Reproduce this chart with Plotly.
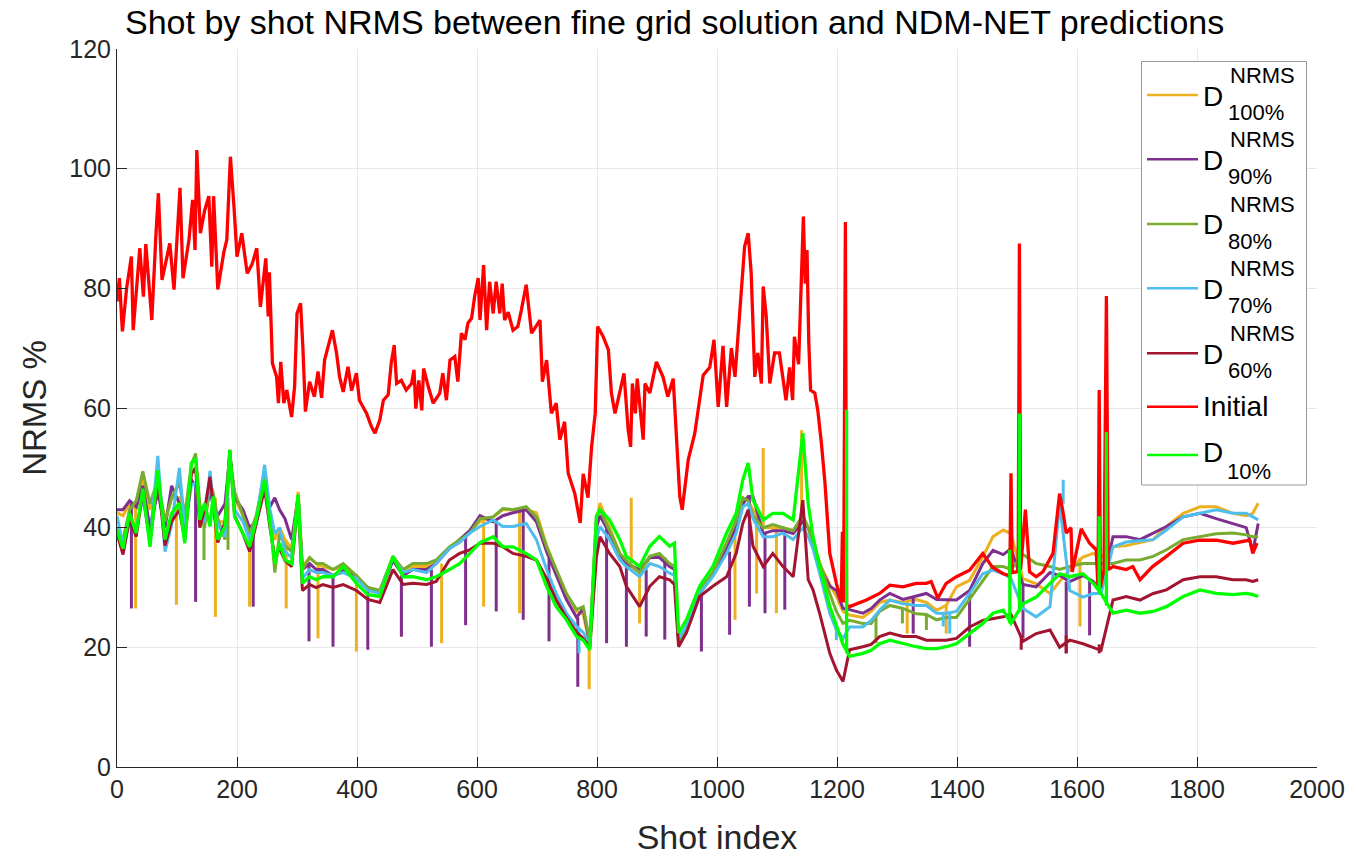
import plotly.graph_objects as go

# ---------------- data ----------------
RED_SHOT = [0, 4, 9, 16, 24, 27, 38, 44, 48, 58, 65, 69, 75, 88, 95, 105, 110, 120, 126, 130,
            133, 139, 146, 153, 158, 161, 168, 178, 183, 189, 195, 200, 208, 217, 225, 233, 239, 248, 252, 254,
            259, 266, 269, 273, 278, 283, 291, 296, 300, 306, 310, 314, 321, 329, 335, 341, 346, 355, 359, 366,
            371, 377, 385, 391, 399, 404, 416, 424, 430, 438, 444, 452, 457, 462, 466, 474, 482, 491, 495, 498,
            503, 508, 511, 519, 527, 538, 543, 549, 555, 563, 568, 574, 580, 585, 591, 596, 602, 605, 611, 616,
            621, 627, 632, 638, 642, 646, 652, 660, 668, 674, 682, 691, 705, 709, 716, 724, 732, 738, 746, 752,
            763, 772, 777, 785, 791, 797, 801, 810, 819, 824, 830, 845, 852, 856, 859, 864, 867, 877, 880, 888,
            899, 910, 918, 927, 932, 938, 942, 952, 963, 972, 977, 988, 995, 1002, 1010, 1016, 1024, 1030, 1038, 1046,
            1052, 1057, 1063, 1068, 1074, 1077, 1082, 1088, 1096, 1104, 1115, 1121, 1126, 1129, 1136, 1140, 1144, 1147, 1150, 1153,
            1156, 1163, 1168, 1174, 1180, 1185, 1188, 1199, 1204, 1207, 1209, 1211, 1214, 1216, 1221, 1249, 1271, 1288, 1310, 1332,
            1349, 1357, 1368, 1382, 1399, 1421, 1443, 1459, 1477, 1488, 1490, 1492, 1499, 1502, 1504, 1506, 1514, 1521, 1532, 1543,
            1560, 1571, 1577, 1582, 1590, 1592, 1607, 1621, 1632, 1635, 1637, 1639, 1645, 1649, 1652, 1660, 1682, 1693, 1705, 1726,
            1749, 1777, 1804, 1832, 1860, 1888, 1893, 1900]
RED_NRMS = [77.8, 81.7, 72.8, 80.0, 85.3, 73.0, 86.7, 78.6, 87.4, 74.7, 89.2, 95.9, 81.4, 87.5, 79.8, 96.8, 81.7, 88.1, 94.8, 86.4,
            103.1, 89.2, 93.0, 95.4, 83.6, 95.4, 79.8, 86.0, 88.1, 102.0, 93.6, 85.3, 89.2, 82.5, 84.0, 86.7, 76.9, 85.0, 75.3, 82.7,
            67.5, 65.2, 60.8, 67.7, 60.8, 63.0, 58.5, 63.6, 75.8, 77.5, 69.7, 59.4, 64.4, 61.9, 66.1, 61.7, 68.0, 71.4, 73.0, 69.1,
            65.2, 62.7, 66.9, 62.9, 65.8, 61.3, 59.1, 56.9, 55.8, 58.0, 61.3, 62.2, 67.5, 70.5, 64.1, 64.6, 63.0, 64.1, 66.4, 59.9,
            64.6, 59.6, 66.6, 63.5, 60.8, 62.5, 65.8, 61.3, 68.0, 68.6, 64.4, 72.5, 71.4, 74.2, 75.0, 78.6, 81.7, 74.7, 83.9, 73.0,
            81.1, 75.8, 81.1, 75.8, 80.8, 74.7, 76.0, 73.0, 73.6, 76.4, 80.6, 72.5, 74.7, 64.4, 68.0, 59.1, 60.8, 54.7, 57.7, 49.1,
            45.7, 40.8, 49.0, 45.0, 53.5, 59.1, 73.6, 72.0, 69.7, 62.5, 59.1, 65.8, 56.3, 53.5, 64.1, 59.1, 64.9, 54.7, 64.1, 62.5,
            67.7, 65.2, 61.9, 64.9, 55.8, 45.2, 43.0, 51.3, 55.8, 62.5, 65.5, 66.8, 71.4, 60.2, 70.4, 60.2, 70.0, 65.2, 76.9, 87.0,
            89.2, 82.5, 65.2, 69.2, 64.1, 80.3, 75.4, 64.1, 69.2, 69.2, 61.3, 66.8, 61.3, 71.9, 67.3, 78.0, 92.0, 80.8, 86.4, 70.9,
            63.0, 62.5, 59.6, 54.1, 47.4, 40.0, 35.7, 30.7, 28.5, 27.6, 39.3, 27.5, 91.1, 27.0, 26.8, 27.9, 29.0, 30.4, 30.1, 30.7,
            30.7, 31.0, 28.2, 30.7, 31.8, 32.9, 35.7, 33.4, 32.3, 32.0, 49.1, 32.5, 32.6, 33.0, 87.5, 33.0, 43.0, 32.6, 31.8, 32.6,
            35.7, 45.7, 42.4, 39.1, 40.0, 32.6, 39.8, 37.4, 36.3, 30.0, 63.0, 30.0, 33.0, 78.7, 33.0, 33.5, 33.0, 33.5, 31.3, 33.5,
            35.2, 37.4, 37.9, 37.9, 37.4, 37.9, 35.7, 37.4]

LOW_SHOT = [0, 10, 21, 32, 43, 55, 68, 80, 91, 104,
            113, 124, 131, 138, 146, 155, 160, 168, 180, 188,
            196, 210, 221, 232, 246, 255, 263, 271, 280, 291,
            302, 309, 321, 332, 343, 360, 377, 399, 418, 438,
            460, 477, 493, 516, 532, 554, 571, 588, 605, 627,
            643, 660, 682, 699, 716, 732, 749, 766, 777, 788,
            799, 805, 821, 838, 849, 871, 888, 904, 921, 929,
            936, 949, 971, 993, 1016, 1032, 1043, 1052, 1060, 1077,
            1093, 1110, 1127, 1143, 1152, 1160, 1171, 1188, 1199, 1210,
            1221, 1243, 1257, 1271, 1288, 1310, 1332, 1349, 1366, 1382,
            1399, 1421, 1443, 1460, 1477, 1490, 1510, 1532, 1555, 1571,
            1588, 1610, 1627, 1640, 1660, 1682, 1705, 1727, 1749, 1777,
            1805, 1832, 1860, 1882, 1893, 1902]

D100 = [42.5, 42.0, 44.0, 43.0, 48.5, 43.0, 47.0, 41.0, 45.0, 45.0,
        41.0, 49.0, 50.0, 43.0, 41.0, 47.0, 45.0, 41.0, 41.0, 52.0,
        45.0, 42.0, 39.0, 41.5, 48.5, 42.0, 38.0, 40.0, 38.0, 36.5,
        46.0, 33.5, 35.0, 34.0, 33.5, 33.0, 33.5, 32.0, 30.0, 29.5,
        35.0, 33.0, 33.5, 33.5, 34.5, 36.5, 38.0, 39.5, 41.0, 41.8,
        43.0, 43.0, 43.0, 42.5, 37.0, 33.0, 29.0, 26.0, 25.5, 20.5,
        41.0, 44.1, 40.0, 35.7, 34.0, 32.5, 35.0, 35.5, 34.0, 33.5,
        21.0, 23.5, 29.5, 32.5, 36.5, 40.5, 45.0, 44.5, 43.0, 40.0,
        40.0, 40.0, 39.5, 42.0, 40.0, 37.5, 34.0, 30.5, 28.5, 26.0,
        25.4, 25.0, 26.0, 27.5, 27.9, 27.5, 28.0, 27.5, 26.2, 27.0,
        30.1, 31.2, 35.1, 38.5, 39.6, 39.0, 31.5, 30.6, 29.0, 31.0,
        33.0, 35.1, 35.7, 35.0, 36.8, 37.0, 37.5, 38.0, 40.2, 42.4,
        43.5, 43.5, 42.4, 42.0, 42.4, 44.1]
D90 = [43.0, 43.0, 44.5, 43.5, 47.0, 40.0, 46.0, 40.0, 47.0, 44.0,
       40.0, 48.0, 47.0, 43.0, 42.0, 46.0, 44.0, 42.0, 44.0, 52.0,
       45.0, 43.0, 40.0, 41.0, 47.0, 43.5, 45.0, 43.0, 41.5, 38.0,
       45.0, 33.0, 34.0, 33.0, 33.0, 32.0, 33.0, 31.5, 30.0, 29.0,
       34.5, 32.0, 33.0, 33.0, 34.0, 36.5, 38.0, 39.5, 42.0, 41.0,
       42.0, 42.5, 43.0, 41.0, 36.0, 32.0, 28.0, 25.0, 26.5, 20.5,
       40.0, 42.0, 39.0, 35.5, 34.0, 33.0, 35.0, 35.0, 33.5, 33.0,
       21.0, 23.0, 29.0, 32.0, 36.5, 40.0, 44.0, 45.2, 45.2, 39.0,
       39.5, 39.5, 39.0, 41.0, 40.0, 38.0, 33.5, 30.2, 29.5, 26.5,
       26.3, 25.7, 26.5, 27.9, 29.0, 28.0, 28.5, 29.0, 28.0, 27.9,
       27.9, 29.5, 34.0, 36.2, 35.5, 36.5, 30.5, 30.1, 32.5, 32.0,
       31.0, 32.0, 31.0, 29.5, 38.5, 38.5, 38.0, 39.1, 40.2, 41.8,
       42.4, 41.5, 40.7, 40.0, 36.0, 40.7]
D80 = [40.0, 38.0, 43.0, 44.5, 49.4, 44.0, 48.0, 41.0, 45.0, 47.5,
       42.0, 50.5, 52.4, 44.0, 40.0, 47.5, 46.0, 41.5, 38.0, 52.0,
       46.0, 42.0, 39.0, 42.0, 49.0, 42.0, 32.5, 39.0, 37.0, 36.0,
       45.5, 33.0, 35.0, 34.0, 34.0, 33.0, 34.0, 32.0, 30.0, 29.5,
       35.2, 33.0, 34.0, 34.0, 34.6, 36.8, 38.0, 39.1, 41.5, 41.8,
       43.2, 43.0, 43.5, 41.8, 36.8, 33.0, 29.0, 26.3, 26.8, 21.0,
       42.0, 43.0, 39.6, 35.7, 34.5, 32.5, 35.2, 35.7, 34.0, 33.5,
       21.0, 23.5, 29.5, 32.5, 37.5, 41.3, 45.0, 44.5, 42.0, 40.0,
       40.5, 40.0, 39.5, 42.0, 40.0, 37.5, 34.0, 29.0, 26.0, 24.0,
       24.5, 24.0, 24.0, 26.0, 27.0, 26.5, 25.6, 25.5, 24.6, 25.0,
       25.0, 28.0, 31.2, 33.5, 33.5, 33.0, 35.5, 34.0, 33.5, 33.0,
       33.5, 34.0, 34.0, 34.0, 34.0, 34.6, 34.6, 35.2, 36.3, 38.0,
       38.5, 39.0, 39.1, 38.8, 38.5, 38.5]
D70 = [42.0, 37.0, 41.0, 40.0, 45.0, 38.0, 52.0, 36.0, 40.5, 50.0,
       40.0, 47.0, 47.5, 42.0, 41.0, 49.5, 44.0, 40.5, 38.5, 52.5,
       43.0, 41.0, 38.0, 41.0, 50.5, 43.0, 39.0, 40.0, 36.0, 35.0,
       45.0, 31.5, 33.0, 32.5, 32.5, 32.0, 32.5, 31.5, 29.5, 29.0,
       35.0, 32.5, 33.0, 32.5, 34.0, 36.5, 37.5, 39.1, 40.2, 41.3,
       40.2, 40.2, 40.7, 38.0, 33.0, 29.0, 25.7, 23.5, 22.5, 20.5,
       38.0, 40.2, 38.0, 34.6, 33.5, 31.8, 34.0, 33.5, 32.4, 32.0,
       21.5, 23.5, 29.0, 31.8, 35.7, 39.1, 43.5, 44.0, 41.5, 38.5,
       38.5, 39.1, 38.0, 40.0, 38.5, 36.5, 32.4, 25.7, 22.9, 21.5,
       23.4, 23.4, 24.5, 26.2, 27.9, 27.3, 27.0, 27.0, 25.7, 25.7,
       26.0, 29.0, 32.3, 32.9, 32.3, 31.5, 26.5, 25.1, 26.8, 44.0,
       29.5, 28.4, 29.0, 29.0, 36.8, 37.6, 37.8, 38.0, 39.6, 41.8,
       42.4, 43.0, 42.4, 42.4, 41.8, 41.3]
D60 = [39.0, 35.5, 41.5, 38.5, 46.0, 37.5, 48.5, 37.0, 41.0, 43.0,
       38.0, 49.0, 50.0, 40.0, 43.0, 48.5, 44.0, 37.5, 41.0, 53.0,
       42.0, 39.0, 36.0, 40.5, 46.5, 40.0, 35.0, 36.5, 34.5, 33.5,
       44.5, 29.5, 30.5, 30.0, 30.5, 30.0, 30.5, 29.5, 28.0, 27.5,
       33.0, 30.5, 30.7, 30.5, 31.0, 34.6, 35.7, 36.3, 37.4, 37.4,
       36.8, 35.7, 35.2, 34.6, 31.5, 27.9, 25.0, 22.5, 21.5, 20.0,
       35.0, 38.5, 35.7, 33.5, 30.2, 26.8, 30.2, 31.8, 31.3, 30.5,
       20.1, 22.4, 28.5, 30.2, 31.8, 35.7, 40.7, 43.0, 36.9, 33.5,
       35.7, 33.5, 31.8, 44.6, 31.3, 29.6, 25.7, 19.0, 16.2, 14.3,
       19.6, 20.1, 20.5, 21.8, 22.4, 21.8, 21.8, 21.2, 21.2, 21.2,
       21.5, 23.4, 24.5, 24.8, 25.1, 25.5, 21.0, 22.3, 22.9, 20.0,
       21.2, 20.6, 20.0, 19.5, 27.9, 28.5, 27.9, 29.0, 29.6, 31.3,
       31.8, 31.8, 31.3, 31.3, 31.0, 31.3]
D10 = [39.6, 36.5, 42.4, 39.1, 46.5, 36.8, 49.6, 38.0, 42.4, 44.1,
       37.4, 50.8, 51.6, 41.3, 44.1, 40.2, 45.2, 38.0, 40.2, 53.0,
       41.8, 39.1, 36.8, 41.3, 48.0, 40.7, 34.0, 37.4, 34.6, 34.0,
       45.5, 30.7, 31.8, 31.3, 31.8, 31.8, 33.5, 30.7, 28.8, 28.5,
       35.2, 31.8, 31.8, 31.3, 31.8, 33.0, 34.0, 35.7, 37.5, 38.5,
       36.8, 36.8, 35.7, 34.6, 30.2, 26.8, 24.6, 21.8, 21.2, 19.6,
       41.8, 43.0, 41.3, 38.0, 35.2, 33.5, 36.9, 38.5, 36.9, 37.4,
       22.4, 24.6, 30.2, 33.5, 39.1, 42.4, 48.0, 50.8, 44.6, 41.3,
       42.4, 42.4, 41.3, 55.8, 44.0, 38.5, 33.5, 26.8, 23.5, 20.5,
       18.5, 19.0, 19.5, 20.6, 21.2, 20.6, 20.1, 19.8, 19.8, 20.1,
       20.6, 22.3, 24.0, 25.7, 26.2, 24.0, 27.3, 28.4, 30.7, 32.3,
       31.8, 32.3, 30.7, 29.0, 25.7, 26.2, 25.7, 26.0, 26.8, 28.5,
       29.6, 29.0, 28.8, 29.0, 28.8, 28.5]

# single-shot spikes: shot, level of the curve, tip of the spike
D100_SPIKE_SHOT = [31, 99, 164, 221, 282, 335, 399, 474, 541, 611, 671, 787, 857, 871, 1030, 1066, 1077, 1099, 1141, 1317, 1382, 1605]
D100_SPIKE_BASE = [43, 44, 45, 39, 38, 34, 32, 32, 34, 41, 43, 21, 34, 33, 40, 44, 40, 40, 42, 27.5, 27, 35]
D100_SPIKE_TIP = [26.5, 27.1, 25.1, 26.8, 26.5, 21.5, 19.3, 21.8, 20.7, 26.8, 25.7, 13.0, 45.0, 24.0, 24.6, 29.0, 53.3, 25.7, 56.3, 22.3, 22.3, 23.5]
D90_SPIKE_SHOT = [24, 131, 227, 320, 360, 418, 474, 524, 581, 632, 677, 720, 768, 816, 849, 882, 913, 974, 1021, 1054, 1080, 1113, 1327, 1421, 1510, 1582, 1621]
D90_SPIKE_BASE = [44, 47, 40, 34, 32, 30, 32, 33, 39, 41, 43, 35, 25, 40, 34, 33, 35, 30, 36, 45, 39, 39.5, 28.5, 29.5, 30.5, 31, 31.5]
D90_SPIKE_TIP = [26.5, 27.6, 26.8, 21.0, 20.1, 19.6, 21.8, 20.1, 23.7, 26.0, 24.6, 21.0, 13.4, 20.7, 20.1, 21.8, 21.3, 19.3, 22.1, 26.8, 25.7, 26.3, 22.3, 20.1, 21.5, 19.0, 22.0]
D80_SPIKE_SHOT = [145, 185, 1265, 1309, 1349]
D80_SPIKE_BASE = [41, 45, 25, 26.5, 25.5]
D80_SPIKE_TIP = [34.6, 36.3, 20.7, 24.0, 22.9]
D70_SPIKE_SHOT = [770, 1199, 1377, 1388, 1577]
D70_SPIKE_BASE = [23, 23, 25.7, 25.7, 44]
D70_SPIKE_TIP = [19.0, 21.2, 23.5, 22.3, 48.0]
D60_SPIKE_SHOT = [1507, 1582, 1637]
D60_SPIKE_BASE = [22, 22, 20.5]
D60_SPIKE_TIP = [19.6, 19.0, 19.0]
D10_SPIKE_SHOT = [1216, 1488, 1504, 1637, 1649]
D10_SPIKE_BASE = [19, 24, 26, 29, 27]
D10_SPIKE_TIP = [59.7, 36.3, 59.1, 41.9, 56.0]

X_TICKS = [0, 200, 400, 600, 800, 1000, 1200, 1400, 1600, 1800, 2000]
Y_TICKS = [0, 20, 40, 60, 80, 100, 120]

assert len(RED_SHOT) == len(RED_NRMS), (len(RED_SHOT), len(RED_NRMS))
for arr in (D100, D90, D80, D70, D60, D10):
    assert len(arr) == len(LOW_SHOT), (len(arr), len(LOW_SHOT))

# ---------------- styling ----------------
FONT = "Liberation Sans, Arial, Helvetica, sans-serif"
C_ORANGE = "#EDB120"
C_PURPLE = "#7E2F8E"
C_OLIVE = "#77AC30"
C_CYAN = "#4DBEEE"
C_MAROON = "#A2142F"
C_RED = "#FF0000"
C_GREEN = "#00FF00"
LW = 3.0

fig = go.Figure()


def add_series(name, xs, ys, color, width=LW, spikes=None):
    fig.add_trace(go.Scatter(x=xs, y=ys, mode="lines", name=name,
                             line=dict(color=color, width=width), showlegend=False))
    if spikes is not None:
        sx, sb, st = spikes
        X, Y = [], []
        for a, b, c in zip(sx, sb, st):
            X += [a, a, None]
            Y += [b, c, None]
        fig.add_trace(go.Scatter(x=X, y=Y, mode="lines", name=name,
                                 line=dict(color=color, width=width),
                                 showlegend=False, hoverinfo="skip"))


add_series("D NRMS 100%", LOW_SHOT, D100, C_ORANGE, spikes=(D100_SPIKE_SHOT, D100_SPIKE_BASE, D100_SPIKE_TIP))
add_series("D NRMS 90%", LOW_SHOT, D90, C_PURPLE, spikes=(D90_SPIKE_SHOT, D90_SPIKE_BASE, D90_SPIKE_TIP))
add_series("D NRMS 80%", LOW_SHOT, D80, C_OLIVE, spikes=(D80_SPIKE_SHOT, D80_SPIKE_BASE, D80_SPIKE_TIP))
add_series("D NRMS 70%", LOW_SHOT, D70, C_CYAN, spikes=(D70_SPIKE_SHOT, D70_SPIKE_BASE, D70_SPIKE_TIP))
add_series("D NRMS 60%", LOW_SHOT, D60, C_MAROON, spikes=(D60_SPIKE_SHOT, D60_SPIKE_BASE, D60_SPIKE_TIP))
add_series("Initial", RED_SHOT, RED_NRMS, C_RED, width=3.3)
add_series("D 10%", LOW_SHOT, D10, C_GREEN, width=3.3, spikes=(D10_SPIKE_SHOT, D10_SPIKE_BASE, D10_SPIKE_TIP))

# ---------------- custom legend (MATLAB style, stacked super/subscripts) ----------------
L, R, T, B = 117, 39, 49, 89
W, H = 1356, 856
PW, PH = W - L - R, H - T - B


def px(x):
    return (x - L) / PW


def py(y):
    return (H - B - y) / PH


shapes = [dict(type="rect", xref="paper", yref="paper",
               x0=px(1141.5), x1=px(1306.5), y0=py(485), y1=py(61.5),
               fillcolor="white", line=dict(color="#9a9a9a", width=1), layer="above")]
annotations = []
LEG = [(95.0, C_ORANGE, "100%"), (159.3, C_PURPLE, "90%"), (224.0, C_OLIVE, "80%"),
       (288.3, C_CYAN, "70%"), (353.3, C_MAROON, "60%")]
for ly, col, sub in LEG:
    shapes.append(dict(type="line", xref="paper", yref="paper", x0=px(1147), x1=px(1198),
                       y0=py(ly), y1=py(ly), line=dict(color=col, width=2.6), layer="above"))
    annotations.append(dict(xref="paper", yref="paper", x=px(1201), y=py(ly + 1), text="D",
                            showarrow=False, xanchor="left", yanchor="middle",
                            font=dict(family=FONT, size=28, color="black")))
    annotations.append(dict(xref="paper", yref="paper", x=px(1228), y=py(ly - 19.5), text="NRMS",
                            showarrow=False, xanchor="left", yanchor="middle",
                            font=dict(family=FONT, size=22, color="black")))
    annotations.append(dict(xref="paper", yref="paper", x=px(1226), y=py(ly + 17.5), text=sub,
                            showarrow=False, xanchor="left", yanchor="middle",
                            font=dict(family=FONT, size=22, color="black")))
# Initial
shapes.append(dict(type="line", xref="paper", yref="paper", x0=px(1147), x1=px(1198),
                   y0=py(406.7), y1=py(406.7), line=dict(color=C_RED, width=2.6), layer="above"))
annotations.append(dict(xref="paper", yref="paper", x=px(1201), y=py(406), text="Initial",
                        showarrow=False, xanchor="left", yanchor="middle",
                        font=dict(family=FONT, size=28, color="black")))
# D 10%
shapes.append(dict(type="line", xref="paper", yref="paper", x0=px(1147), x1=px(1198),
                   y0=py(455), y1=py(455), line=dict(color=C_GREEN, width=2.6), layer="above"))
annotations.append(dict(xref="paper", yref="paper", x=px(1201), y=py(452), text="D",
                        showarrow=False, xanchor="left", yanchor="middle",
                        font=dict(family=FONT, size=28, color="black")))
annotations.append(dict(xref="paper", yref="paper", x=px(1225), y=py(471.5), text="10%",
                        showarrow=False, xanchor="left", yanchor="middle",
                        font=dict(family=FONT, size=22, color="black")))

AX = "#262626"
GRID = "#e8e8e8"
fig.update_layout(
    width=W, height=H,
    margin=dict(l=L, r=R, t=T, b=B, autoexpand=False),
    paper_bgcolor="white", plot_bgcolor="white",
    font=dict(family=FONT, color=AX),
    title=dict(text="Shot by shot NRMS between fine grid solution and NDM-NET predictions",
               x=125 / W, xanchor="left", xref="container",
               y=1 - 22 / H, yanchor="middle", yref="container",
               font=dict(family=FONT, size=34, color="black")),
    xaxis=dict(range=[0, 2000], tickvals=X_TICKS, ticktext=[str(v) for v in X_TICKS],
               showgrid=True, gridcolor=GRID, gridwidth=1, zeroline=False,
               showline=True, linecolor=AX, linewidth=1,
               ticks="inside", ticklen=10, tickcolor=AX,
               tickfont=dict(family=FONT, size=25, color=AX),
               title=dict(text="Shot index", standoff=32,
                          font=dict(family=FONT, size=34, color=AX))),
    yaxis=dict(range=[0, 120], tickvals=Y_TICKS, ticktext=[str(v) for v in Y_TICKS],
               showgrid=True, gridcolor=GRID, gridwidth=1, zeroline=False,
               showline=True, linecolor=AX, linewidth=1,
               ticks="inside", ticklen=10, tickcolor=AX,
               tickfont=dict(family=FONT, size=25, color=AX),
               title=dict(text="NRMS %", standoff=12,
                          font=dict(family=FONT, size=33, color=AX))),
    shapes=shapes, annotations=annotations,
    showlegend=False,
)

fig.write_html("out.html")
